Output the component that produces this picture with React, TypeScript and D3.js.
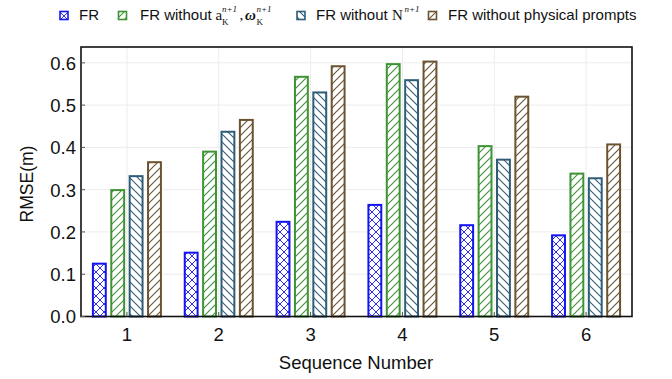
import React from "react";
import * as d3 from "d3";

const categories = ["1", "2", "3", "4", "5", "6"];
const seriesNames = ["FR", "FR without a,ω", "FR without N", "FR without physical prompts"];
const frValues = [0.125, 0.151, 0.224, 0.264, 0.216, 0.192];
const noAOmegaValues = [0.299, 0.390, 0.567, 0.597, 0.403, 0.338];
const noNValues = [0.332, 0.437, 0.530, 0.559, 0.371, 0.327];
const noPhysValues = [0.365, 0.465, 0.592, 0.603, 0.520, 0.407];
const yTicks = [0, 0.1, 0.2, 0.3, 0.4, 0.5, 0.6];

const colors = ["#1414f0", "#3e9334", "#2f5d78", "#6b5330"];
const patternTypes = ["cross", "fwd", "back", "fwd"];

const W = 672;
const H = 379;
const margin = { left: 81, right: 40, top: 47, bottom: 63 };

export default function App() {
  const series = [frValues, noAOmegaValues, noNValues, noPhysValues];
  const x0 = d3
    .scaleBand<string>()
    .domain(categories)
    .range([margin.left, W - margin.right])
    .paddingInner(0)
    .paddingOuter(0);
  const groupWidth = 68;
  const x1 = d3
    .scaleBand<number>()
    .domain([0, 1, 2, 3])
    .range([0, groupWidth])
    .paddingInner(0.3)
    .paddingOuter(0);
  const y = d3
    .scaleLinear()
    .domain([0, 0.6375])
    .range([H - margin.bottom + 0.5, margin.top]);

  const plotL = margin.left;
  const plotR = W - margin.right;
  const plotT = margin.top;
  const plotB = H - margin.bottom;
  const font = "'Liberation Sans', Arial, sans-serif";
  const serif = "'Liberation Serif', 'DejaVu Serif', serif";

  const patternPath = (t: string) => {
    const fwd = "M0,8 L8,0 M-2,2 L2,-2 M6,10 L10,6";
    const back = "M0,0 L8,8 M-2,6 L2,10 M6,-2 L10,2";
    if (t === "fwd") return fwd;
    if (t === "back") return back;
    return fwd + " " + back;
  };

  const legendIcon = (i: number, xPos: number) => (
    <rect
      x={xPos}
      y={11.5}
      width={8}
      height={8}
      fill={`url(#pat${i})`}
      stroke={colors[i]}
      strokeWidth={1.6}
    />
  );

  return (
    <svg
      width={W}
      height={H}
      style={{ position: "absolute", left: 0, top: 0, background: "#fff" }}
    >
      <defs>
        {patternTypes.map((t, i) => (
          <pattern
            key={i}
            id={`pat${i}`}
            patternUnits="userSpaceOnUse"
            width={8}
            height={8}
          >
            <rect width={8} height={8} fill="#fff" />
            <path
              d={patternPath(t)}
              stroke={colors[i]}
              strokeWidth={t === "cross" ? 0.9 : 1.1}
              fill="none"
            />
          </pattern>
        ))}
      </defs>

      {/* grid */}
      {yTicks.slice(1).map((t) => (
        <line
          key={"gy" + t}
          x1={plotL}
          x2={plotR}
          y1={y(t)}
          y2={y(t)}
          stroke="#ececec"
          strokeWidth={1}
        />
      ))}
      {categories.map((c) => (
        <line
          key={"gx" + c}
          x1={x0(c)! + x0.bandwidth() / 2}
          x2={x0(c)! + x0.bandwidth() / 2}
          y1={plotT}
          y2={plotB}
          stroke="#ececec"
          strokeWidth={1}
        />
      ))}

      {/* bars */}
      {series.map((vals, si) =>
        vals.map((v, ci) => {
          const cx = x0(categories[ci])! + x0.bandwidth() / 2 - groupWidth / 2;
          const bx = cx + x1(si)!;
          return (
            <rect
              key={`b${si}-${ci}`}
              x={bx}
              y={y(v)}
              width={x1.bandwidth()}
              height={y(0) - y(v)}
              fill={`url(#pat${si})`}
              stroke={colors[si]}
              strokeWidth={2}
            />
          );
        })
      )}

      {/* frame */}
      <rect
        x={plotL}
        y={plotT}
        width={plotR - plotL}
        height={plotB - plotT + 0.5}
        fill="none"
        stroke="#111"
        strokeWidth={1.6}
      />

      {/* y ticks */}
      {yTicks.map((t) => (
        <g key={"yt" + t}>
          <line x1={plotL} x2={plotL + 4} y1={y(t)} y2={y(t)} stroke="#555" strokeWidth={1} />
          <text
            x={76}
            y={y(t) + 2}
            textAnchor="end"
            dominantBaseline="middle"
            fontFamily={font}
            fontSize={18.5}
            fill="#111"
          >
            {d3.format(".1f")(t)}
          </text>
        </g>
      ))}

      {/* x ticks */}
      {categories.map((c) => {
        const cx = x0(c)! + x0.bandwidth() / 2;
        return (
          <g key={"xt" + c}>
            <line x1={cx} x2={cx} y1={plotB} y2={plotB - 4} stroke="#555" strokeWidth={1} />
            <text
              x={cx}
              y={341}
              textAnchor="middle"
              fontFamily={font}
              fontSize={18.5}
              fill="#111"
            >
              {c}
            </text>
          </g>
        );
      })}

      {/* axis labels */}
      <text
        x={356}
        y={369}
        textAnchor="middle"
        fontFamily={font}
        fontSize={18.5}
        fill="#111"
      >
        Sequence Number
      </text>
      <text
        transform={`translate(33,184) rotate(-90)`}
        textAnchor="middle"
        fontFamily={font}
        fontSize={17.5}
        fill="#111"
      >
        RMSE(m)
      </text>

      {/* legend */}
      {legendIcon(0, 60)}
      <text x={79} y={20} fontFamily={font} fontSize={15} fill="#111">
        {seriesNames[0]}
      </text>

      {legendIcon(1, 118.5)}
      <text x={140} y={20} fontFamily={font} fontSize={15} fill="#111">
        FR without
      </text>
      <text x={215.5} y={20} fontFamily={serif} fontSize={15} fill="#111">
        a
      </text>
      <text x={222} y={25} fontFamily={serif} fontSize={9} fill="#111">
        K
      </text>
      <text x={222} y={12} fontFamily={serif} fontSize={9} fontStyle="italic" fill="#111">
        n+1
      </text>
      <text x={239.5} y={20} fontFamily={serif} fontSize={15} fill="#111">
        ,
      </text>
      <text x={245} y={20} fontFamily={serif} fontSize={15} fontStyle="italic" fontWeight="bold" fill="#111">
        ω
      </text>
      <text x={256.5} y={25} fontFamily={serif} fontSize={9} fill="#111">
        K
      </text>
      <text x={256.5} y={12} fontFamily={serif} fontSize={9} fontStyle="italic" fill="#111">
        n+1
      </text>

      {legendIcon(2, 297)}
      <text x={316} y={20} fontFamily={font} fontSize={15} fill="#111">
        FR without
      </text>
      <text x={392} y={20} fontFamily={serif} fontSize={15} fill="#111">
        N
      </text>
      <text x={404.5} y={12} fontFamily={serif} fontSize={9} fontStyle="italic" fill="#111">
        n+1
      </text>

      {legendIcon(3, 428.5)}
      <text x={448} y={20} fontFamily={font} fontSize={15} fill="#111">
        {seriesNames[3]}
      </text>
    </svg>
  );
}
